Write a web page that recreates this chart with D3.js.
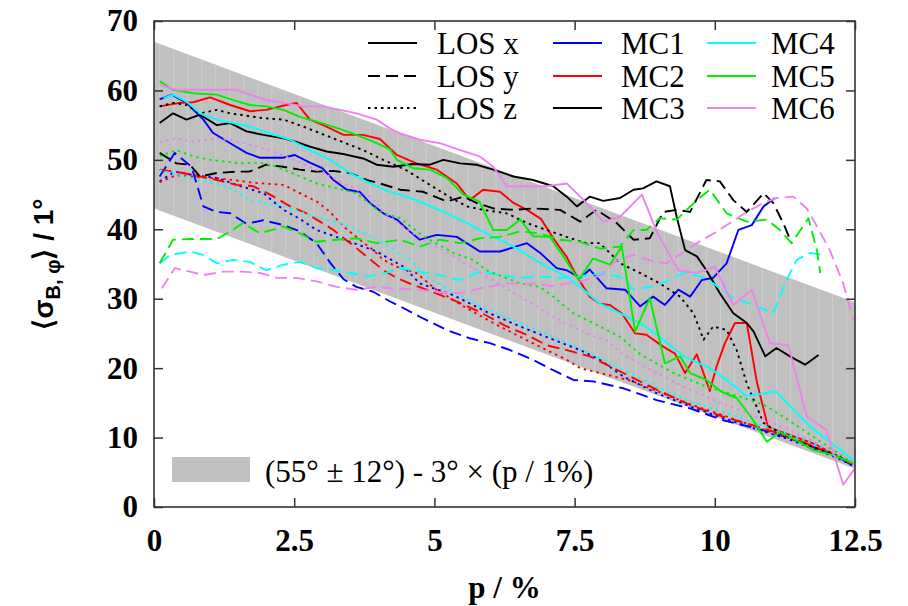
<!DOCTYPE html>
<html><head><meta charset="utf-8">
<script src="https://cdn.jsdelivr.net/npm/d3@7"></script>
<style>body{margin:0;background:#fff;} svg{display:block;}</style>
</head><body>
<svg id="c" width="908" height="606"></svg>
<script>
// ---------- data ----------
const xTicks = [0, 2.5, 5, 7.5, 10, 12.5];
const xTickLabels = ["0", "2.5", "5", "7.5", "10", "12.5"];
const yTicks = [0, 10, 20, 30, 40, 50, 60, 70];
const bandCenter = 55, bandHalfWidth = 12, bandSlope = -3;
const mcNames = ["MC1", "MC2", "MC3", "MC4", "MC5", "MC6"];
const mcColors = ["#0000ff", "#ff0000", "#000000", "#00ffff", "#00ee00", "#ee82ee"];
const losNames = ["LOS x", "LOS y", "LOS z"];

// [p, value] pairs
const MC1_losx = [[0.1,58.7],[0.32,59.4],[0.58,58.2],[0.88,55.8],[1.05,53.9],[1.36,52.4],[1.65,51],[1.89,50.3],[2.3,50.3],[2.51,50.7],[2.78,49.6],[3.0,48.8],[3.2,47.1],[3.44,45.7],[3.67,45.4],[3.85,43.8],[4.09,42.3],[4.33,41.4],[4.56,39.7],[4.74,38.5],[5.04,39.2],[5.4,38.9],[5.81,36.8],[6.17,36.8],[6.65,38],[6.9,36.5],[7.18,34.4],[7.36,34.1],[7.6,33],[7.77,34.2],[8.07,31.5],[8.4,31.3],[8.67,28.9],[8.9,30.3],[9.11,29.1],[9.35,31.3],[9.56,30.3],[9.77,32.7],[9.97,33],[10.21,35.1],[10.42,39.9],[10.66,40.6],[10.87,43.3],[11.07,44.5]];
const MC1_losy = [[0.1,47.6],[0.37,51],[0.67,49],[0.88,43.3],[1.12,42.5],[1.36,42.3],[1.65,40.8],[1.95,41.3],[2.31,40.6],[2.6,39.7],[2.9,38],[3.14,35.2],[3.38,32.8],[3.61,31.7],[3.91,31],[4.21,29.6],[4.39,28.9],[4.74,27.4],[5.22,25.5],[5.63,24.3],[5.99,23.6],[6.35,22.6],[6.76,21.2],[7.12,19.7],[7.48,18.3],[7.83,18.1],[8.37,17.1],[8.96,15.4],[9.56,14.2],[10.15,12.5],[10.75,11.3],[11.3,10],[11.8,8.5],[12.2,7.2],[12.45,6]];
const MC1_losz = [[0.1,46.9],[0.37,48.3],[0.7,47.8],[1.12,47.4],[1.47,46.4],[1.95,45.2],[2.31,42.8],[2.6,41.5],[2.9,39.9],[3.5,38.2],[3.97,36.8],[4.45,34.6],[4.74,32.2],[5.34,30.5],[5.93,28.1],[6.53,26],[7.12,24.1],[7.6,22.6],[7.95,21.2],[8.37,18.8],[8.96,16.4],[9.56,14.5],[10.15,12.8],[10.75,11.2],[11.3,9.8],[11.8,8.3],[12.2,7],[12.45,6]];
const MC2_losx = [[0.1,57.7],[0.46,58.2],[0.7,58.3],[1.0,59],[1.36,57.9],[1.71,57],[2.0,57.2],[2.3,57.8],[2.54,58.2],[2.78,55.8],[3.02,55],[3.38,53.6],[3.73,53.6],[4.03,53],[4.33,50.7],[4.68,49.5],[5.04,48.6],[5.4,46.6],[5.63,44.2],[5.87,45.7],[6.17,45.4],[6.41,43.8],[6.65,42.8],[6.9,41.5],[7.12,38.7],[7.36,36],[7.54,33.2],[7.77,30.3],[7.95,29.3],[8.13,29.1],[8.34,27.9],[8.58,25],[8.78,24.8],[9.08,23.1],[9.29,22.1],[9.47,19.3],[9.68,22],[9.91,16.7],[10.03,20.2],[10.18,23.6],[10.36,26.5],[10.57,26.5],[10.75,18],[10.95,11.5],[11.3,10.5],[11.8,9],[12.2,7.3],[12.45,6.3]];
const MC2_losy = [[0.1,48.6],[0.52,48.1],[1.12,47.1],[1.47,46.4],[1.77,46.2],[2.07,45],[2.43,43.3],[2.72,42.3],[2.96,41.1],[3.2,39.9],[3.5,38],[3.79,36.1],[4.09,34.1],[4.33,33],[4.62,32],[4.86,31.3],[5.34,29.8],[5.81,28.1],[6.29,26],[6.65,24.8],[7.0,23.3],[7.36,22.6],[7.77,21.7],[8.37,19.3],[8.96,16.9],[9.56,14.7],[10.15,13],[10.75,11.6],[11.3,10.2],[11.8,8.6],[12.2,7.3],[12.45,6.2]];
const MC2_losz = [[0.1,46.8],[0.4,47.8],[0.8,47.5],[1.2,47.3],[1.5,47],[1.77,46.7],[2.31,46.4],[2.6,45.2],[2.9,44],[3.14,42.5],[3.38,40.4],[3.67,38.5],[3.91,37],[4.09,35.6],[4.33,34.6],[4.68,33.7],[5.0,31.5],[5.52,28.9],[6.05,26.5],[6.53,24.5],[7.0,22.6],[7.36,21.2],[7.6,20],[8.0,19.2],[8.5,18.2],[9.0,16.6],[9.56,14.8],[10.15,13.2],[10.75,11.5],[11.3,10],[11.8,8.5],[12.2,7.2],[12.45,6.1]];
const MC3_losx = [[0.1,55.3],[0.34,56.7],[0.58,55.8],[0.82,56.5],[1.12,55],[1.36,55.3],[1.65,54.1],[1.95,53.6],[2.31,53.1],[2.54,52.6],[2.78,51.9],[3.08,51.2],[3.4,50.8],[3.73,50.2],[3.97,49.3],[4.27,49],[4.62,49.4],[4.92,49.3],[5.16,50],[5.46,49.5],[5.75,49.3],[6.05,48.6],[6.41,47.6],[6.76,47.1],[7.12,46.2],[7.36,44.7],[7.54,43.3],[7.77,44.7],[8.01,44.1],[8.31,44.5],[8.55,45.7],[8.72,45.9],[8.96,46.9],[9.2,46.2],[9.32,41.8],[9.47,37],[9.68,36.1],[9.85,34.1],[10.09,30.8],[10.33,27.9],[10.57,26.5],[10.69,25.3],[10.9,21.7],[11.1,22.9],[11.34,21.7],[11.61,20.5],[11.85,21.9]];
const MC3_losy = [[0.1,51],[0.4,49.5],[0.64,49.3],[0.82,47.6],[1.12,48.1],[1.47,48.3],[1.7,48.3],[2.0,49.3],[2.3,49],[2.6,48.6],[2.9,48.3],[3.2,48.4],[3.5,48.1],[3.79,47.1],[4.03,46.6],[4.39,45.7],[4.8,45.4],[5.22,44],[5.52,44.7],[5.75,43.8],[6.05,43],[6.41,42.8],[6.76,43],[7.24,42.8],[7.6,41.1],[7.89,42.8],[8.25,40.9],[8.55,38.5],[8.84,38.7],[9.08,42.5],[9.32,42.8],[9.56,42.5],[9.85,47.1],[10.09,46.9],[10.33,44.2],[10.57,42.5],[10.87,45.2],[11.04,43.8],[11.22,40.9],[11.37,38]];
const MC3_losz = [[0.1,57.7],[0.34,58.2],[0.58,57.9],[0.82,56.7],[1.12,57.2],[1.36,56.7],[1.95,56],[2.31,55.8],[2.66,54.8],[3.26,52.9],[3.73,51.4],[4.09,50],[4.5,48.5],[4.92,46.4],[5.3,44.5],[5.58,43.3],[5.87,42.8],[6.29,42.3],[6.65,40.9],[7.0,39.9],[7.36,38.9],[7.71,38],[7.95,38],[8.19,36.1],[8.31,35.1],[8.67,33.7],[9.02,32.2],[9.38,30.3],[9.62,27.9],[9.8,24.1],[9.97,26],[10.21,25.5],[10.39,22.6],[10.57,17.8],[10.69,15.5],[10.87,12.1],[11.2,10.5],[11.7,8.8],[12.2,7.3],[12.45,6.3]];
const MC4_losx = [[0.17,58.9],[0.34,59.4],[0.58,58.4],[0.82,56.7],[1.12,55.8],[1.41,55.3],[1.71,54.8],[2.07,53.8],[2.43,52.9],[2.78,51.4],[3.14,50],[3.5,48.1],[3.85,46.6],[4.21,45.4],[4.39,45],[4.8,43.8],[5.22,42.3],[5.58,40.9],[5.93,39.4],[6.41,37.5],[7.0,34.6],[7.36,33.2],[7.6,31.7],[7.95,29.3],[8.31,27.9],[8.67,26.5],[9.02,24.5],[9.44,21.7],[9.91,20],[10.21,18.3],[10.57,16],[11.1,16.6],[11.4,14],[11.7,11.6],[12.05,9.4],[12.47,6.8]];
const MC4_losy = [[0.1,35.1],[0.29,36.3],[0.64,36.8],[0.88,36.3],[1.12,35.1],[1.41,35.6],[1.71,35.3],[2.0,34.1],[2.31,34.9],[2.6,35.3],[2.9,34.4],[3.2,34.1],[3.5,33.7],[3.79,33.2],[4.05,33.5],[4.39,34.4],[4.74,33.9],[5.1,33.4],[5.46,32.7],[5.81,33.9],[6.17,33.4],[6.53,33],[6.88,33.2],[7.24,33],[7.6,33.2],[7.95,33.6],[8.31,33.2],[8.55,31.3],[8.84,31.7],[9.14,32.5],[9.44,33.7],[9.74,33.2],[9.97,32.2],[10.33,30.1],[10.69,29.1],[11.04,27.9],[11.28,32.7],[11.46,35.6],[11.7,36.6],[11.93,36.3]];
const MC4_losz = [[0.1,48.5],[0.6,47.5],[1.3,46.2],[1.71,44.2],[2.31,43.3],[2.9,41.8],[3.5,40.4],[4.09,38],[4.56,35.6],[4.86,33.2],[5.81,28.9],[6.53,26.5],[7.12,24.5],[7.83,21.9],[8.37,19.8],[8.96,17.3],[9.56,15.2],[10.15,13.7],[10.75,12],[11.3,10.5],[11.8,9],[12.2,7.5],[12.45,6.5]];
const MC5_losx = [[0.1,61.3],[0.34,60.1],[0.7,59.6],[1.12,59.4],[1.41,58.6],[1.71,57.9],[2.0,57.7],[2.31,57.2],[2.6,56.2],[2.9,55.5],[3.26,54.6],[3.61,53.6],[3.97,52.4],[4.21,51.5],[4.33,50],[4.62,48.8],[4.92,48.6],[5.22,47.4],[5.52,45],[5.8,44],[6.05,39.9],[6.29,39.9],[6.53,41.4],[6.76,39],[7.06,38.9],[7.3,36.1],[7.57,32.7],[7.83,35.8],[8.13,34.9],[8.34,37.5],[8.58,25.3],[8.84,30.1],[9.11,20.7],[9.38,21.7],[9.56,19.3],[9.85,18.3],[10.12,16.6],[10.39,15.7],[10.66,12.8],[10.93,9.4],[11.16,10.8],[11.46,9.6],[11.76,8.2],[12.1,7.5],[12.47,6.3]];
const MC5_losy = [[0.1,35.1],[0.34,38.5],[0.64,38.6],[1.12,38.6],[1.36,39.7],[1.59,40.9],[1.89,39.4],[2.31,40.4],[2.6,39.4],[2.9,38.2],[3.26,38.5],[3.61,38.7],[3.97,38],[4.39,38.5],[4.74,37.5],[5.1,38.5],[5.46,38],[5.81,38.7],[6.17,38.9],[6.53,39.7],[6.88,39.4],[7.24,38.5],[7.6,38.2],[7.95,37.2],[8.31,37.5],[8.55,39.9],[8.78,39.9],[9.02,41.6],[9.32,41.4],[9.68,44.2],[9.91,45.7],[10.21,42.3],[10.57,41.1],[10.93,41.4],[11.16,39.9],[11.37,38],[11.67,41.6],[11.82,37],[11.88,33.7]];
const MC5_losz = [[0.1,50.5],[0.4,51.4],[0.7,50.5],[1.0,50],[1.53,49.5],[1.9,49.6],[2.19,49],[2.9,46.6],[3.61,45.2],[4.03,42.5],[4.39,41.6],[4.8,39],[5.34,36.6],[5.69,35.6],[5.93,34.1],[6.53,32.2],[6.88,31.7],[7.12,30.3],[7.48,27.9],[7.83,26.5],[8.31,24.5],[8.67,22],[9.26,19.3],[9.86,17.3],[10.45,15.9],[10.93,14.5],[11.22,13],[11.76,10.1],[12.47,6.3]];
const MC6_losx = [[0.1,60.8],[0.4,60.1],[0.82,60.1],[1.47,60.1],[1.71,59.4],[2.0,58.6],[2.31,58.2],[2.66,57.7],[3.02,57.7],[3.32,57.2],[3.61,56.7],[3.97,55.8],[4.21,54.5],[4.39,53.8],[4.74,52.9],[5.1,52.4],[5.46,51.4],[5.81,50.5],[6.05,49],[6.29,46.2],[6.65,46.2],[7.0,46.2],[7.36,46.6],[7.6,44.7],[7.77,43.3],[8.01,41.1],[8.31,41.8],[8.7,45],[8.99,39.2],[9.35,34.1],[9.68,33.7],[10.0,34.6],[10.33,29.1],[10.66,31.3],[10.98,23.6],[11.31,23.3],[11.64,13],[11.99,11.1],[12.29,3.2],[12.5,5.6]];
const MC6_losy = [[0.14,31.5],[0.37,34.4],[0.64,33.9],[0.88,33.4],[1.24,33.9],[1.59,33.9],[1.89,33.7],[2.19,33],[2.54,33],[2.9,32.5],[3.26,31.7],[3.61,31.3],[3.97,31.7],[4.21,31.5],[4.74,31.3],[5.1,30.9],[5.46,30.8],[5.81,31.5],[6.29,32.2],[6.76,32.2],[7.1,31.8],[7.6,32.5],[7.95,33.3],[8.25,35.5],[8.55,36.3],[8.85,35.5],[9.14,35.1],[9.4,36.5],[9.68,38],[10.0,39.5],[10.27,40.9],[10.57,42.5],[10.87,43.8],[11.1,44.5],[11.4,44.7],[11.64,43],[11.85,40],[12.05,37],[12.29,32.2],[12.47,26.9]];
const MC6_losz = [[0.1,52.6],[0.4,53.1],[0.7,52.6],[1.12,53.1],[1.4,52.8],[1.71,52.2],[2.07,51.4],[2.43,50.2],[2.78,49],[3.14,47.6],[3.5,46.2],[3.85,44.7],[4.1,42.5],[4.5,40],[4.92,38],[5.34,36.1],[5.93,33.2],[6.53,30.3],[7.12,27.4],[7.71,25],[8.07,24],[8.37,21.9],[8.96,19.3],[9.56,16.9],[10.15,14.9],[10.75,13],[11.3,11.2],[11.8,9.3],[12.2,7.8],[12.45,6.6]];

const seriesTable = [
  [MC1_losx, MC1_losy, MC1_losz],
  [MC2_losx, MC2_losy, MC2_losz],
  [MC3_losx, MC3_losy, MC3_losz],
  [MC4_losx, MC4_losy, MC4_losz],
  [MC5_losx, MC5_losy, MC5_losz],
  [MC6_losx, MC6_losy, MC6_losz]
];

// ---------- layout ----------
const L = 154, R = 855, T = 21, B = 507;
const svg = d3.select("#c");
const x = d3.scaleLinear().domain([0, 12.5]).range([L, R]);
const y = d3.scaleLinear().domain([0, 70]).range([B, T]);
const dashes = ["none", "12,6", "2.5,4"];
const serif = "'Liberation Serif','Times New Roman',serif";

// clip
const defs = svg.append("defs");
defs.append("clipPath").attr("id", "plotclip")
  .append("rect").attr("x", L).attr("y", T).attr("width", R - L).attr("height", B - T);

// band
const bandPts = [[0, bandCenter + bandHalfWidth], [12.5, bandCenter + bandHalfWidth + bandSlope * 12.5],
                 [12.5, bandCenter - bandHalfWidth + bandSlope * 12.5], [0, bandCenter - bandHalfWidth]];
const bandPath = d3.line().x(d => x(d[0])).y(d => y(d[1]))(bandPts) + "Z";
svg.append("g").attr("clip-path", "url(#plotclip)").append("path")
  .attr("d", bandPath).attr("fill", "#c0c0c0");
defs.append("clipPath").attr("id", "bandclip").append("path").attr("d", bandPath);
const stripes = d3.range(0.1, 12.5, 0.25);
svg.append("g").attr("clip-path", "url(#bandclip)").selectAll("line").data(stripes).join("line")
  .attr("x1", d => x(d)).attr("x2", d => x(d)).attr("y1", T).attr("y2", B)
  .attr("stroke", "#cdcdcd").attr("stroke-width", 1);

// lines
const lineGen = d3.line().x(d => x(d[0])).y(d => y(d[1]));
const linesG = svg.append("g").attr("clip-path", "url(#plotclip)");
seriesTable.forEach((losArr, mi) => {
  losArr.forEach((data, li) => {
    linesG.append("path").attr("d", lineGen(data))
      .attr("fill", "none").attr("stroke", mcColors[mi])
      .attr("stroke-width", 1.9).attr("stroke-dasharray", dashes[li])
      .attr("stroke-linejoin", "round");
  });
});

// axes
const axCol = "#333";
const styleAxis = g => {
  g.selectAll(".domain").remove();
  g.selectAll(".tick line").attr("stroke", axCol).attr("stroke-width", 1.5);
};
svg.append("g").attr("transform", `translate(0,${B})`)
  .call(d3.axisBottom(x).tickValues(xTicks).tickSizeInner(-9).tickSizeOuter(0).tickPadding(22)
    .tickFormat((d, i) => xTickLabels[i]))
  .call(styleAxis)
  .call(g => g.selectAll("text").attr("font-family", serif).attr("font-weight", "bold")
    .attr("font-size", 31).attr("fill", "#000"));
svg.append("g").attr("transform", `translate(0,${T})`)
  .call(d3.axisTop(x).tickValues(xTicks).tickSizeInner(-9).tickSizeOuter(0).tickFormat(""))
  .call(styleAxis);
svg.append("g").attr("transform", `translate(${L},0)`)
  .call(d3.axisLeft(y).tickValues(yTicks).tickSizeInner(-9).tickSizeOuter(0).tickPadding(16))
  .call(styleAxis)
  .call(g => g.selectAll("text").attr("font-family", serif).attr("font-weight", "bold")
    .attr("font-size", 31).attr("fill", "#000"));
svg.append("g").attr("transform", `translate(${R},0)`)
  .call(d3.axisRight(y).tickValues(yTicks).tickSizeInner(-9).tickSizeOuter(0).tickFormat(""))
  .call(styleAxis);
svg.append("rect").attr("x", L).attr("y", T).attr("width", R - L).attr("height", B - T)
  .attr("fill", "none").attr("stroke", axCol).attr("stroke-width", 1.6);

// axis titles
svg.append("text").attr("x", (L + R) / 2).attr("y", 598).attr("text-anchor", "middle")
  .attr("font-family", serif).attr("font-weight", "bold").attr("font-size", 31).text("p / %");
const yt = svg.append("text").attr("transform", `translate(53,${(T + B) / 2}) rotate(-90)`)
  .attr("text-anchor", "middle").attr("font-family", "'Liberation Sans',Arial,sans-serif")
  .attr("font-weight", "bold").attr("font-size", 28);
yt.append("tspan").text("⟨σ");
yt.append("tspan").attr("font-size", 20).attr("dy", 7).text("B, φ");
yt.append("tspan").attr("dy", -7).text("⟩ / 1°");

// legend (top)
const legFont = 31;
const rowY = [43, 76, 108];
losNames.forEach((n, i) => {
  svg.append("line").attr("x1", 368).attr("x2", 417).attr("y1", rowY[i]).attr("y2", rowY[i])
    .attr("stroke", "#000").attr("stroke-width", 1.9).attr("stroke-dasharray", dashes[i]);
  svg.append("text").attr("x", 437).attr("y", rowY[i] + 11).attr("font-family", serif)
    .attr("font-size", legFont).text(n);
});
mcNames.forEach((n, i) => {
  const col = Math.floor(i / 3), row = i % 3;
  const lx = col === 0 ? 553 : 707;
  const tx = col === 0 ? 621 : 771;
  svg.append("line").attr("x1", lx).attr("x2", lx + 49).attr("y1", rowY[row]).attr("y2", rowY[row])
    .attr("stroke", mcColors[i]).attr("stroke-width", 1.9);
  svg.append("text").attr("x", tx).attr("y", rowY[row] + 11).attr("font-family", serif)
    .attr("font-size", legFont).text(n);
});

// legend (bottom)
svg.append("rect").attr("x", 172).attr("y", 457).attr("width", 78).attr("height", 25).attr("fill", "#c0c0c0");
svg.append("text").attr("x", 265).attr("y", 482).attr("font-family", serif).attr("font-size", 31)
  .text("(55° ± 12°) - 3° × (p / 1%)");
</script>
</body></html>
